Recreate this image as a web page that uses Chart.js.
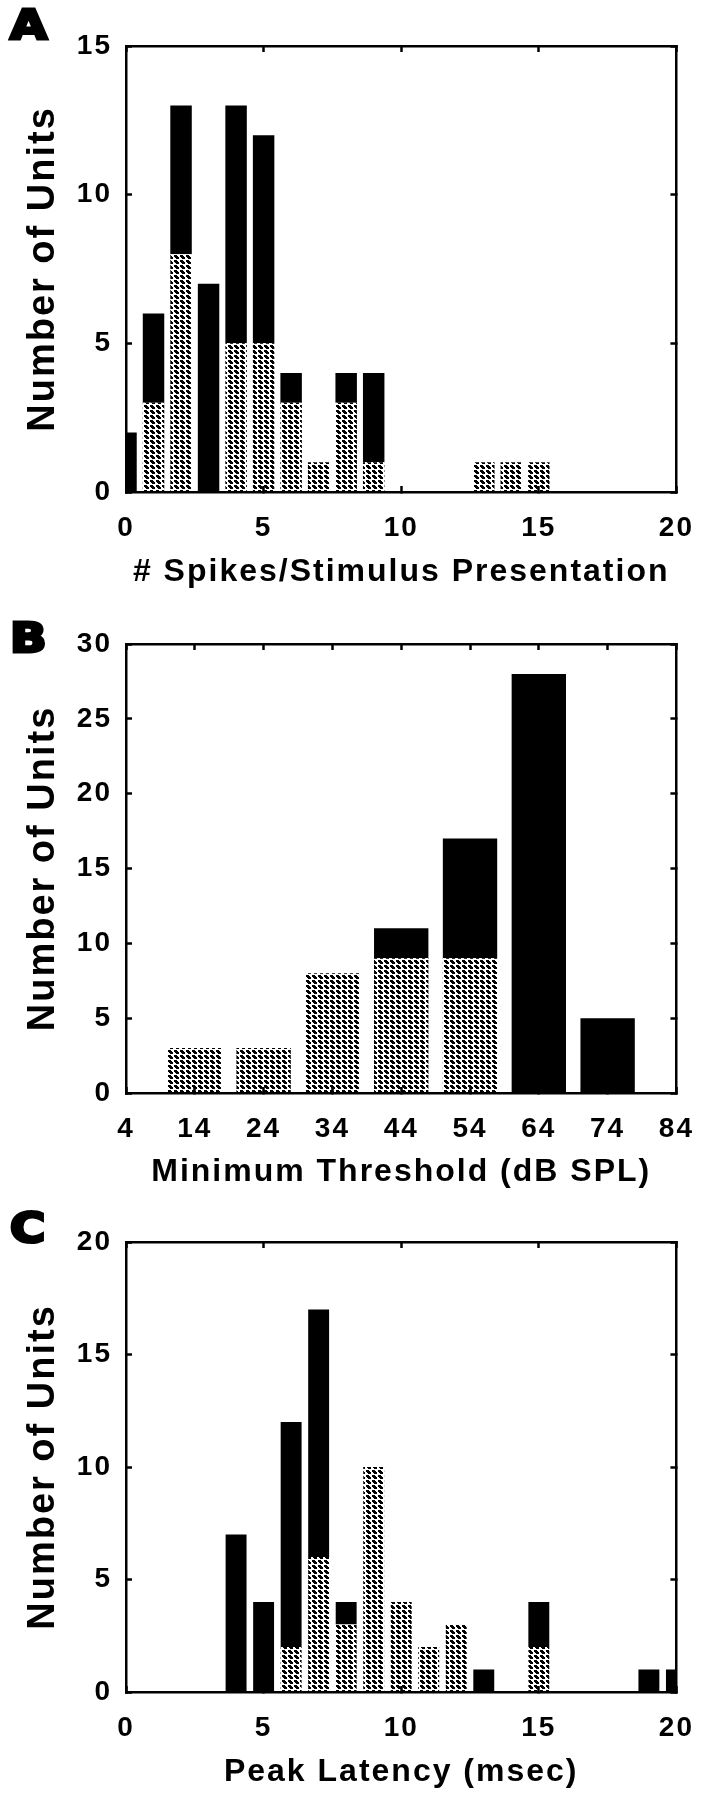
<!DOCTYPE html>
<html><head><meta charset="utf-8">
<script src="https://cdn.jsdelivr.net/npm/chart.js@4.4.1/dist/chart.umd.min.js"></script>
<style>
html,body{margin:0;padding:0;background:#fff;}
.panel{position:relative;width:719px;height:600px;}
.panel canvas{position:absolute;left:0;top:0;}
.letter{position:absolute;font-family:"DejaVu Sans";font-weight:bold;font-size:40px;line-height:1;color:#000;-webkit-text-stroke:3px #000;transform:scaleX(1.2);transform-origin:0 0;}
</style></head><body>
<div class="panel"><canvas id="cA" width="719" height="600"></canvas><div class="letter" style="left:10px;top:5px">A</div></div>
<div class="panel"><canvas id="cB" width="719" height="600"></canvas><div class="letter" style="left:10px;top:18px">B</div></div>
<div class="panel"><canvas id="cC" width="719" height="600"></canvas><div class="letter" style="left:10px;top:8px">C</div></div>
<script>
// ---- Panel A: spikes per stimulus presentation ----
const spikeBins    = [0,1,2,3,4,5,6,7,8,9,10,11,12,13,14,15,16,17,18,19,20];
const spikeHatched = [0,3,8,0,5,5,3,1,3,1,0,0,0,1,1,1,0,0,0,0,0];
const spikeBlack   = [2,3,5,7,8,7,1,0,1,3,0,0,0,0,0,0,0,0,0,0,0];
const spikeXTicks  = [0,5,10,15,20];
const spikeYTicks  = [0,5,10,15];

// ---- Panel B: minimum threshold ----
const threshBins    = [14,24,34,44,54,64,74];
const threshHatched = [3,3,8,9,9,0,0];
const threshBlack   = [0,0,0,2,8,28,5];
const threshXTicks  = [4,14,24,34,44,54,64,74,84];
const threshYTicks  = [0,5,10,15,20,25,30];

// ---- Panel C: peak latency ----
const latBins    = [0,1,2,3,4,5,6,7,8,9,10,11,12,13,14,15,16,17,18,19,20];
const latHatched = [0,0,0,0,0,0,2,6,3,10,4,2,3,0,0,2,0,0,0,0,0];
const latBlack   = [0,0,0,0,7,4,10,11,1,0,0,0,0,1,0,2,0,0,0,1,1];
const latXTicks  = [0,5,10,15,20];
const latYTicks  = [0,5,10,15,20];

const yTitle = 'Number of Units';
const FAMILY = 'Liberation Sans';

function makePattern(ctx){
  const rows = ["XXX...","XXXX..",".XXXX.","..XXX.","......"];
  const c = document.createElement('canvas');
  c.width = rows[0].length; c.height = rows.length;
  const g = c.getContext('2d');
  g.fillStyle = '#fff'; g.fillRect(0,0,c.width,c.height);
  g.fillStyle = '#000';
  rows.forEach((r,y)=>{ for(let x=0;x<r.length;x++){ if(r[x]==='X') g.fillRect(x,y,1,1); } });
  return ctx.createPattern(c,'repeat');
}

const spacingPlugin = {
  id:'spacing',
  beforeLayout(chart){ chart.ctx.letterSpacing = '2px'; },
  beforeDraw(chart){ chart.ctx.letterSpacing = '2px'; }
};

function build(id, cfg){
  const ctx = document.getElementById(id).getContext('2d');
  const pat = makePattern(ctx);
  const setTicks = arr => (s => { s.ticks = arr.map(v => ({value:v})); });
  const gridOpt = {display:true, offset:false, drawOnChartArea:false, drawTicks:true, tickLength:-6, tickWidth:2.5, tickColor:'#000', z:1};
  const borderOpt = {display:true, color:'#000', width:2.5, z:1};
  const tickFont = {family:FAMILY, size:28, weight:'bold'};
  const xmin = cfg.xTicks[0], xmax = cfg.xTicks[cfg.xTicks.length-1];
  const ymax = cfg.yTicks[cfg.yTicks.length-1];
  return new Chart(ctx, {
    type:'bar',
    data:{
      datasets:[
        {data: cfg.bins.map((b,i)=>({x:b, y:cfg.hatched[i]})), backgroundColor:pat, borderWidth:0,
         barPercentage:cfg.barPct, categoryPercentage:1, clip:0, stack:'s'},
        {data: cfg.bins.map((b,i)=>({x:b, y:cfg.black[i]})), backgroundColor:'#000', borderWidth:0,
         barPercentage:cfg.barPct, categoryPercentage:1, clip:0, stack:'s'}
      ]
    },
    options:{
      responsive:false, animation:false, devicePixelRatio:1,
      layout:{padding:0},
      plugins:{legend:{display:false}, tooltip:{enabled:false}, title:{display:false}},
      scales:{
        x:{type:'linear', position:'bottom', offset:false, stacked:true, min:xmin, max:xmax,
           afterBuildTicks:setTicks(cfg.xTicks),
           ticks:{font:tickFont, color:'#000', padding:25, maxRotation:0, autoSkip:false, callback:v=>String(v)},
           grid:gridOpt, border:borderOpt,
           title:{display:true, text:cfg.xTitle, color:'#000', font:{family:FAMILY, size:32, weight:'bold'}, padding:{top:0,bottom:9}},
           afterFit:s=>{ s.height = 600 - cfg.bottom; }},
        x2:{type:'linear', position:'top', offset:false, min:xmin, max:xmax,
           afterBuildTicks:setTicks(cfg.xTicks),
           ticks:{display:false}, grid:gridOpt, border:borderOpt,
           afterFit:s=>{ s.height = cfg.top; }},
        y:{type:'linear', position:'left', stacked:true, min:0, max:ymax,
           afterBuildTicks:setTicks(cfg.yTicks),
           ticks:{font:tickFont, color:'#000', padding:20, callback:v=>String(v)},
           grid:gridOpt, border:borderOpt,
           title:{display:true, text:yTitle, color:'#000', font:{family:FAMILY, size:38, weight:'bold'}, padding:{top:21,bottom:0}},
           afterFit:s=>{ s.width = 126; }},
        y2:{type:'linear', position:'right', min:0, max:ymax,
           afterBuildTicks:setTicks(cfg.yTicks),
           ticks:{display:false}, grid:gridOpt, border:borderOpt,
           afterFit:s=>{ s.width = 719 - cfg.right; }}
      }
    },
    plugins:[spacingPlugin]
  });
}

build('cA', {bins:spikeBins, hatched:spikeHatched, black:spikeBlack, xTicks:spikeXTicks, yTicks:spikeYTicks,
  xTitle:'# Spikes/Stimulus Presentation', barPct:0.78, top:46, bottom:492, right:691});
build('cB', {bins:threshBins, hatched:threshHatched, black:threshBlack, xTicks:threshXTicks, yTicks:threshYTicks,
  xTitle:'Minimum Threshold (dB SPL)', barPct:0.79, top:44, bottom:493, right:692});
build('cC', {bins:latBins, hatched:latHatched, black:latBlack, xTicks:latXTicks, yTicks:latYTicks,
  xTitle:'Peak Latency (msec)', barPct:0.76, top:42, bottom:492, right:691});
</script>
</body></html>
